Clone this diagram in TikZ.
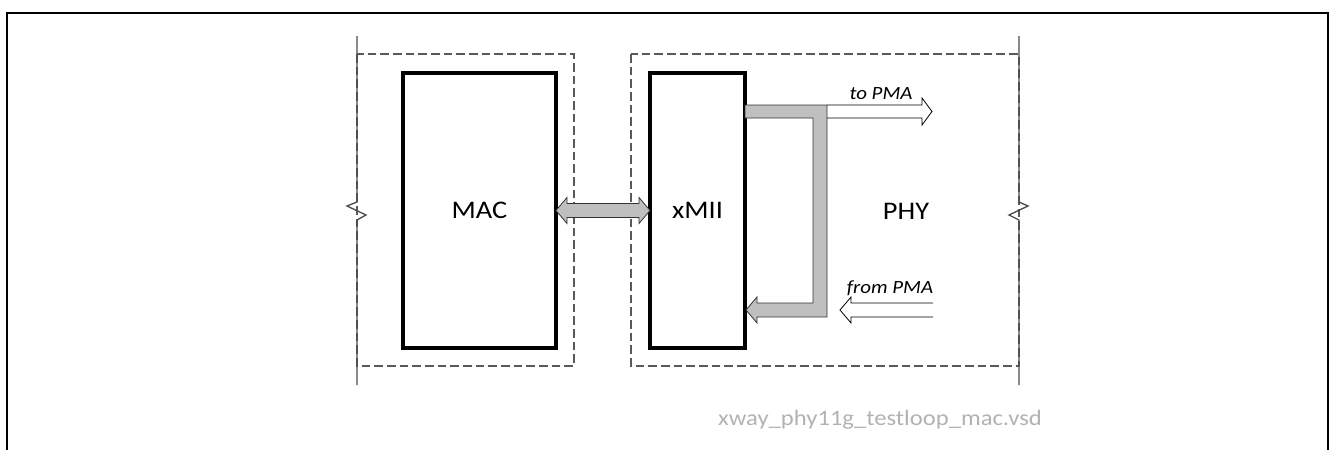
\documentclass[tikz,border=0pt]{standalone}
\usepackage{fontspec}
\setmainfont[FakeStretch=1.12]{Carlito}
\usetikzlibrary{calc}
\begin{document}
\begin{tikzpicture}[x=0.75pt, y=-0.75pt,
    block/.style={draw, fill=white, line width=2.4pt, minimum width=#1, minimum height=206.25pt,
        inner sep=0pt, outer sep=0pt, font=\fontsize{19}{22}\selectfont},
    region/.style={draw=black!65, dash pattern=on 6.5pt off 3pt, line width=0.9pt},
    cutline/.style={draw=black!70, line width=1pt},
    fat/.style={draw=black!80, fill=black!25, line width=0.6pt},
    hollow/.style={draw=black, line width=0.6pt},
    note/.style={font=\itshape\fontsize{14}{16}\selectfont, anchor=base}]
    \useasboundingbox (0,0) rectangle (1331,450);

    % Frame
    \draw[line width=1.5pt] (7,450) -- (7,13) -- (1328,13) -- (1328,450);

    % MAC and PHY regions
    \draw[region] (357,54) rectangle (574,366);
    \draw[region] (631,54) rectangle (1019,366);
    \draw[cutline] (357,36) -- (357,202) -- (347,206) -- (366,215) -- (357,220) -- (357,385);
    \draw[cutline] (1019,36) -- (1019,202) -- (1028,206) -- (1009,215) -- (1019,220) -- (1019,385);

    % Blocks
    \node[block=114.75pt] (mac) at (479.5,210.5) {MAC};
    \node[block=71.25pt] (xmii) at (697.5,210.5) {xMII};
    \node[font=\fontsize{19}{22}\selectfont] (phy) at (906,211) {PHY};

    % MAC <-> xMII
    \draw[fat] (mac.east) -- ++(11,-13) -- ++(0,6) -- ($(xmii.west)+(-11,-7)$) -- ++(0,-6)
        -- (xmii.west) -- ++(-11,13) -- ++(0,-6) -- ($(mac.east)+(11,7)$) -- ++(0,6) -- cycle;

    % Test loop
    \draw[fat] ($(xmii.east)+(0,-105.5)$) -- ++(82,0) -- ++(0,212) -- ++(-70,0) -- ++(0,6)
        -- ($(xmii.east)+(1,99.5)$) -- ++(11,-13) -- ++(0,6) -- ++(56,0) -- ++(0,-185) -- ++(-68,0) -- cycle;

    % PMA side
    \coordinate (topma) at (932,111.5);
    \coordinate (frompma) at (933,310);
    \draw[hollow] (827,105) -- (922,105) -- (922,98) -- (topma) -- (922,125) -- (922,118) -- (827,118);
    \draw[hollow] (frompma) ++(0,-7) -- (851,303) -- (851,297) -- (840,310) -- (851,323) -- (851,317) -- (frompma |- 0,317);
    \node[note] (tolabel) at (881,99) {to PMA};
    \node[note] (fromlabel) at (890,293) {from PMA};

    % File name
    \node[font=\fontsize{16.5}{19}\selectfont, text=black!30, anchor=base] (file) at (880,425) {xway\_phy11g\_testloop\_mac.vsd};
\end{tikzpicture}
\end{document}
